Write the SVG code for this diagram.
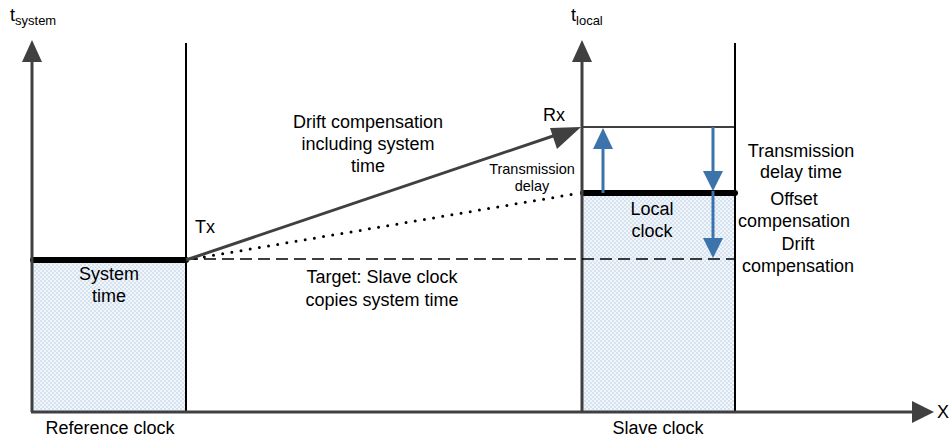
<svg xmlns="http://www.w3.org/2000/svg" width="952" height="441" viewBox="0 0 952 441">
<defs>
<style>
text{font-family:"Liberation Sans",Arial,sans-serif;fill:#000;}
.t{font-size:18px;text-anchor:middle;}
.s{font-size:14.5px;text-anchor:middle;}
.axis{stroke:#404040;stroke-width:3;fill:none;}
.edge{stroke:#000;stroke-width:2;fill:none;}
.thick{stroke:#000;stroke-width:6;stroke-linecap:round;}
.blue{stroke:#3b73aa;stroke-width:3;fill:none;}
</style>
<pattern id="chk" width="4" height="4" patternUnits="userSpaceOnUse">
<rect width="4" height="4" fill="#f2f6fb"/>
<rect width="2" height="2" fill="#d5e3f1"/>
<rect x="2" y="2" width="2" height="2" fill="#d5e3f1"/>
</pattern>
</defs>

<g id="reference-clock">
<rect x="33" y="261" width="153" height="150" fill="url(#chk)"/>
<line class="edge" x1="186" y1="43" x2="186" y2="412"/>
<line class="thick" x1="33" y1="260" x2="186" y2="260"/>
<text class="t" x="109" y="280">System</text>
<text class="t" x="109" y="302">time</text>
<text class="t" x="110" y="434">Reference clock</text>
</g>

<g id="slave-clock">
<rect x="583" y="195" width="152" height="216" fill="url(#chk)"/>
<line class="edge" x1="735" y1="43" x2="735" y2="412"/>
<line x1="582" y1="127" x2="735" y2="127" stroke="#000" stroke-width="1.5"/>
<line class="thick" x1="583" y1="193" x2="735" y2="193"/>
<text class="t" x="652" y="215">Local</text>
<text class="t" x="652" y="237">clock</text>
<text class="t" x="658" y="434">Slave clock</text>
</g>

<g id="axes">
<line class="axis" x1="32" y1="412" x2="32" y2="60"/>
<polygon points="32,40 22,62 42,62" fill="#404040"/>
<text x="10" y="21" style="font-size:18px">t<tspan style="font-size:13px" dy="4">system</tspan></text>
<line class="axis" x1="582" y1="412" x2="582" y2="60"/>
<polygon points="582,40 572,62 592,62" fill="#404040"/>
<text x="571" y="21" style="font-size:18px">t<tspan style="font-size:13px" dy="4">local</tspan></text>
<line class="axis" x1="31" y1="412" x2="914" y2="412"/>
<polygon points="934,412 912,401 912,423" fill="#404040"/>
<text x="937" y="418" style="font-size:18px">X</text>
</g>

<g id="connectors">
<line x1="186" y1="259" x2="736" y2="259" stroke="#000" stroke-width="1.5" stroke-dasharray="12,6"/>
<line x1="186" y1="260" x2="580" y2="193" stroke="#000" stroke-width="3" stroke-dasharray="0,9.3" stroke-linecap="round"/>
<line x1="186" y1="260" x2="556" y2="135" stroke="#404040" stroke-width="3"/>
<polygon points="581,127 550,128 557,149" fill="#404040"/>
<line class="blue" x1="603" y1="193" x2="603" y2="147"/>
<polygon points="603,128 593,149 613,149" fill="#3b73aa"/>
<line class="blue" x1="713" y1="127" x2="713" y2="173"/>
<polygon points="713,191 703,171 723,171" fill="#3b73aa"/>
<line class="blue" x1="713" y1="191" x2="713" y2="240"/>
<polygon points="713,258 703,238 723,238" fill="#3b73aa"/>
</g>

<g id="labels">
<text class="t" x="368" y="128">Drift compensation</text>
<text class="t" x="368" y="150">including system</text>
<text class="t" x="368" y="172">time</text>
<text x="195" y="233" style="font-size:18px">Tx</text>
<text x="543" y="121" style="font-size:18px">Rx</text>
<text class="s" x="532" y="174">Transmission</text>
<text class="s" x="532" y="190.5">delay</text>
<text class="t" x="382" y="283">Target: Slave clock</text>
<text class="t" x="382" y="306">copies system time</text>
<text class="t" x="801" y="157">Transmission</text>
<text class="t" x="801" y="178">delay time</text>
<text class="t" x="794" y="205">Offset</text>
<text class="t" x="794" y="227">compensation</text>
<text class="t" x="798" y="250">Drift</text>
<text class="t" x="798" y="272">compensation</text>
</g>
</svg>
